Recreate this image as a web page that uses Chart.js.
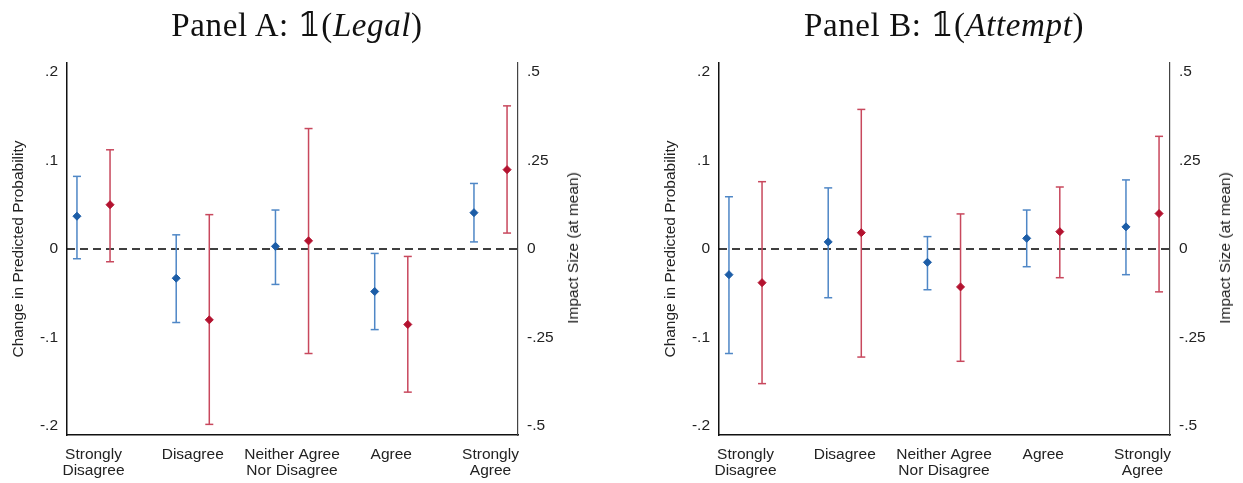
<!DOCTYPE html>
<html>
<head>
<meta charset="utf-8">
<script src="https://cdn.jsdelivr.net/npm/chart.js@4/dist/chart.umd.min.js"></script>
<style>
  html, body { margin: 0; padding: 0; background: #fff; }
  #wrap { position: relative; width: 1243px; height: 483px; overflow: hidden; background: #fff; }
  canvas { position: absolute; top: 0; }
  .ptitle { position: absolute; top: 9px; font-family: "Liberation Serif", "DejaVu Serif", serif; font-size: 33px; line-height: 33px; letter-spacing: 0.6px; color: #111; white-space: nowrap; transform: translateX(-50%); }
  .rtitle { position: absolute; font-family: "Liberation Sans", Arial, sans-serif; font-size: 15.5px; color: #222; white-space: nowrap; transform: translate(-50%, -50%) rotate(-90deg); }
</style>
</head>
<body>
<div id="wrap">
  <canvas id="cA" width="652" height="483" style="left:0px"></canvas>
  <canvas id="cB" width="591" height="483" style="left:652px"></canvas>
  <div class="ptitle" style="left:297px">Panel A: 𝟙(<i>Legal</i>)</div>
  <div class="ptitle" style="left:944px">Panel B: 𝟙(<i>Attempt</i>)</div>
  <div class="rtitle" style="left:573px; top:248px">Impact Size (at mean)</div>
  <div class="rtitle" style="left:1225px; top:248px">Impact Size (at mean)</div>
</div>
<script>
// ---- data ----
const categories = [['Strongly', 'Disagree'], ['Disagree'], ['Neither Agree', 'Nor Disagree'], ['Agree'], ['Strongly', 'Agree']];
const leftTicks = [-0.2, -0.1, 0, 0.1, 0.2];
const leftTickLabels = ['-.2', '-.1', '0', '.1', '.2'];
const rightTicks = [-0.5, -0.25, 0, 0.25, 0.5];
const rightTickLabels = ['-.5', '-.25', '0', '.25', '.5'];
const leftAxisTitle = 'Change in Predicted Probability';

// Panel A: 1(Legal)
const aBluePt = [0.037, -0.033, 0.003, -0.048, 0.041];
const aBlueLo = [-0.011, -0.083, -0.040, -0.091, 0.008];
const aBlueHi = [0.082, 0.016, 0.044, -0.005, 0.074];
const aRedPt = [0.125, -0.200, 0.023, -0.213, 0.224];
const aRedLo = [-0.036, -0.495, -0.295, -0.404, 0.045];
const aRedHi = [0.280, 0.097, 0.340, -0.021, 0.404];

// Panel B: 1(Attempt)
const bBluePt = [-0.029, 0.008, -0.015, 0.012, 0.025];
const bBlueLo = [-0.118, -0.055, -0.046, -0.020, -0.029];
const bBlueHi = [0.059, 0.069, 0.014, 0.044, 0.078];
const bRedPt = [-0.095, 0.046, -0.107, 0.049, 0.100];
const bRedLo = [-0.380, -0.305, -0.317, -0.081, -0.121];
const bRedHi = [0.190, 0.394, 0.099, 0.175, 0.318];

// ---- styling / layout ----
const BLUE_PT = '#1c5da7', BLUE_BAR = '#4f87c6';
const RED_PT = '#b3122f', RED_BAR = '#c8485d';
const X_MIN = 0.733, X_MAX = 5.277;
const OFF = 1 / 6;
const FONT = { family: '"Liberation Sans", Arial, sans-serif', size: 15.5 };
const XFONT = { family: '"Liberation Sans", Arial, sans-serif', size: 15.5, lineHeight: 1.0 };

function barData(lo, hi, shift) {
  const out = [];
  lo.forEach((v, i) => {
    const x = i + 1 + shift;
    out.push({ x: x, y: v }, { x: x, y: hi[i] }, { x: x, y: null });
  });
  return out;
}
function ptData(pt, shift) {
  return pt.map((v, i) => ({ x: i + 1 + shift, y: v }));
}

function makeChart(id, bluePt, blueLo, blueHi, redPt, redLo, redHi, rightPad) {
  return new Chart(document.getElementById(id), {
    type: 'scatter',
    data: {
      datasets: [
        { data: ptData(bluePt, -OFF), yAxisID: 'y', pointStyle: 'rectRot', pointRadius: 4, pointBackgroundColor: BLUE_PT, pointBorderColor: BLUE_PT, pointBorderWidth: 1, order: 0 },
        { data: ptData(redPt, OFF), yAxisID: 'y2', pointStyle: 'rectRot', pointRadius: 4, pointBackgroundColor: RED_PT, pointBorderColor: RED_PT, pointBorderWidth: 1, order: 0 },
        { data: barData(blueLo, blueHi, -OFF), yAxisID: 'y', showLine: true, spanGaps: false, borderColor: BLUE_BAR, borderWidth: 1.5, pointStyle: 'line', pointRadius: 4, pointBorderColor: BLUE_BAR, pointBorderWidth: 1.5, order: 1 },
        { data: barData(redLo, redHi, OFF), yAxisID: 'y2', showLine: true, spanGaps: false, borderColor: RED_BAR, borderWidth: 1.5, pointStyle: 'line', pointRadius: 4, pointBorderColor: RED_BAR, pointBorderWidth: 1.5, order: 1 },
        { data: [{ x: X_MIN, y: 0 }, { x: X_MAX, y: 0 }], yAxisID: 'y', showLine: true, borderColor: '#000', borderWidth: 1.5, borderDash: [8, 5], pointRadius: 0, order: 2 }
      ]
    },
    options: {
      responsive: false,
      animation: false,
      devicePixelRatio: 1,
      layout: { padding: { top: 63, left: 0, right: rightPad, bottom: 0 } },
      plugins: { legend: { display: false }, tooltip: { enabled: false } },
      scales: {
        x: {
          type: 'linear', position: 'bottom', min: X_MIN, max: X_MAX,
          grid: { display: false, drawTicks: false },
          border: { display: true, color: '#111', width: 1.5 },
          afterBuildTicks: s => { s.ticks = categories.map((c, i) => ({ value: i + 1 })); },
          afterFit: s => { s.height = 48; },
          ticks: { autoSkip: false, maxRotation: 0, padding: 12, color: '#222', font: XFONT,
                   callback: (v, i) => categories[i] }
        },
        y: {
          position: 'left', min: -0.21, max: 0.21,
          grid: { display: false, drawTicks: false },
          border: { display: true, color: '#111', width: 1.5 },
          afterBuildTicks: s => { s.ticks = leftTicks.map(v => ({ value: v })); },
          afterFit: s => { s.width = 67; },
          ticks: { padding: 9, color: '#222', font: FONT, callback: (v, i) => leftTickLabels[i] },
          title: { display: true, text: leftAxisTitle, color: '#222', font: FONT, padding: { top: 9, bottom: 0 } }
        },
        y2: {
          position: 'right', min: -0.525, max: 0.525,
          grid: { display: false, drawTicks: false },
          border: { display: true, color: '#444', width: 1.2 },
          afterBuildTicks: s => { s.ticks = rightTicks.map(v => ({ value: v })); },
          afterFit: s => { s.width = 67; },
          ticks: { padding: 9, color: '#222', font: FONT, callback: (v, i) => rightTickLabels[i] }
        }
      }
    }
  });
}

makeChart('cA', aBluePt, aBlueLo, aBlueHi, aRedPt, aRedLo, aRedHi, 652 - 518 - 67);
makeChart('cB', bBluePt, bBlueLo, bBlueHi, bRedPt, bRedLo, bRedHi, 591 - 518 - 67);
</script>
</body>
</html>
